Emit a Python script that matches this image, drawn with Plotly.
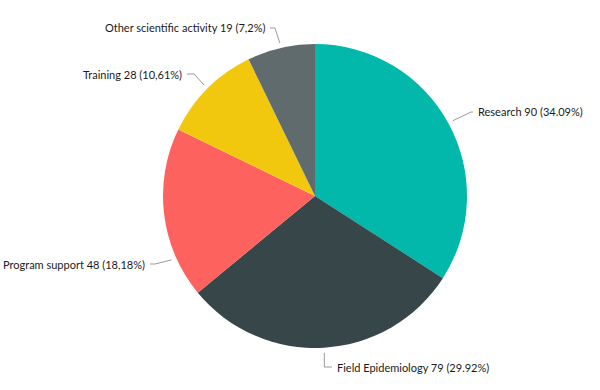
import math
import plotly.graph_objects as go

categories = ["Research", "Field Epidemiology", "Program support", "Training", "Other scientific activity"]
values = [90, 79, 48, 28, 19]
pct_labels = ["34.09%", "29.92%", "18,18%", "10,61%", "7,2%"]
colors = ["#01B8AA", "#374649", "#FD625E", "#F2C80F", "#5F6B6D"]

W, H = 600, 390
CX, CY, R = 315, 196, 152  # pie centre / radius in pixels

# label layout: (text anchor x, y, side, elbow x, attach-angle override)
label_layout = [
    dict(tx=476, ty=112, side="left", ex=471, ang=None),
    dict(tx=335, ty=367, side="left", ex=None, ang=None),
    dict(tx=147, ty=264, side="right", ex=155, ang=246),
    dict(tx=184, ty=74, side="right", ex=194, ang=None),
    dict(tx=267, ty=28, side="right", ex=275, ang=None),
]

def px(x):
    return x / W

def py(y):
    return 1 - y / H

fig = go.Figure(go.Pie(
    labels=categories,
    values=values,
    sort=False,
    direction="clockwise",
    rotation=0,
    marker=dict(colors=colors, line=dict(width=0)),
    textinfo="none",
    hoverinfo="label+value+percent",
    domain=dict(x=[px(CX - R), px(CX + R)], y=[py(CY + R), py(CY - R)]),
    showlegend=False,
))

total = sum(values)
cum = 0
shapes = []
annotations = []
for cat, v, pl, lay in zip(categories, values, pct_labels, label_layout):
    mid = (cum + v / 2) / total * 360
    cum += v
    ang = lay["ang"] if lay["ang"] is not None else mid
    a = math.radians(ang)
    sx = CX + (R + 5) * math.sin(a)
    sy = CY - (R + 5) * math.cos(a)
    ty = lay["ty"]
    if lay["ex"] is None:
        path = f"M {px(sx)} {py(sy)} L {px(sx)} {py(ty)} L {px(lay['tx'] - 3)} {py(ty)}"
    else:
        endx = lay["tx"] - 3 if lay["side"] == "left" else lay["tx"] + 3
        path = f"M {px(sx)} {py(sy)} L {px(lay['ex'])} {py(ty)} L {px(endx)} {py(ty)}"
    shapes.append(dict(type="path", path=path, xref="paper", yref="paper",
                       line=dict(color="#9a9a9a", width=1)))
    annotations.append(dict(
        x=px(lay["tx"]), y=py(ty), xref="paper", yref="paper",
        text=f"{cat} {v} ({pl})", showarrow=False,
        xanchor="left" if lay["side"] == "left" else "right", yanchor="middle",
        font=dict(family="Lato, sans-serif", size=11, color="#1a1a1a"),
    ))

fig.update_layout(
    width=W, height=H,
    margin=dict(l=0, r=0, t=0, b=0),
    paper_bgcolor="white",
    plot_bgcolor="white",
    shapes=shapes,
    annotations=annotations,
)

fig.write_html("out.html", config={"displayModeBar": False},
               post_script="document.body.style.margin='0';")
